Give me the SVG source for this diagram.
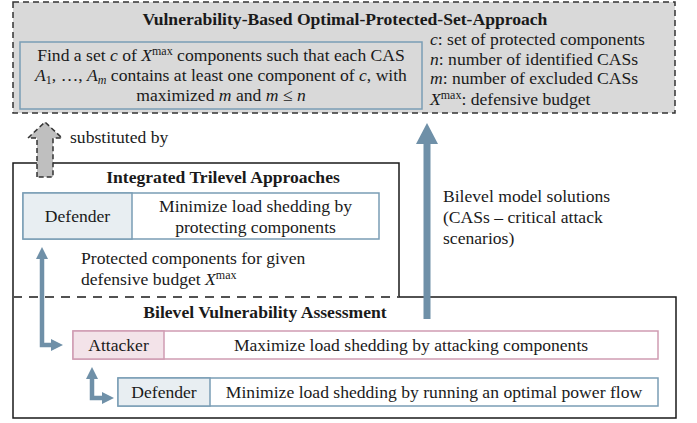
<svg xmlns="http://www.w3.org/2000/svg" width="697" height="423" viewBox="0 0 697 423">
<defs>
<style>
text{font-family:"Liberation Serif","Times New Roman",serif;font-size:17.6px;fill:#1a1a1a}
.b{font-weight:bold}
.i{font-style:italic}
.sup{font-size:12px}
.blue{fill:#fff;stroke:#7a9db5;stroke-width:1.5}
.bluecell{fill:#e8eef2;stroke:#7a9db5;stroke-width:1.5}
.pink{fill:#fff;stroke:#cf9cb2;stroke-width:1.5}
.pinkcell{fill:#f3e3e9;stroke:#cf9cb2;stroke-width:1.5}
.arr{fill:none;stroke:#6f90a8;stroke-width:4.5}
.ah{fill:#6f90a8}
</style>
</defs>
<rect width="697" height="423" fill="#fff"/>

<g id="vbopsa">
<rect x="13" y="2" width="662" height="111" fill="#d9d9d9" stroke="#333" stroke-width="1.5" stroke-dasharray="6 4"/>
<text class="b" x="345" y="25" text-anchor="middle">Vulnerability-Based Optimal-Protected-Set-Approach</text>
<rect x="20" y="42" width="402" height="67" fill="#d9d9d9" stroke="#7a9db5" stroke-width="1.5"/>
<text x="221" y="61" text-anchor="middle">Find a set <tspan class="i">c</tspan> of <tspan class="i">X</tspan><tspan class="sup" dy="-6">max</tspan><tspan dy="6"> components such that each CAS</tspan></text>
<text x="221" y="81" text-anchor="middle"><tspan class="i">A</tspan><tspan class="sup" dy="3">1</tspan><tspan dy="-3">, …, </tspan><tspan class="i">A</tspan><tspan class="sup i" dy="3">m</tspan><tspan dy="-3"> contains at least one component of </tspan><tspan class="i">c</tspan>, with</text>
<text x="221" y="101" text-anchor="middle">maximized <tspan class="i">m</tspan> and <tspan class="i">m</tspan> ≤ <tspan class="i">n</tspan></text>
<text x="430" y="45"><tspan class="i">c</tspan>: set of protected components</text>
<text x="430" y="64.5"><tspan class="i">n</tspan>: number of identified CASs</text>
<text x="430" y="84"><tspan class="i">m</tspan>: number of excluded CASs</text>
<text x="430" y="105"><tspan class="i">X</tspan><tspan class="sup" dy="-6">max</tspan><tspan dy="6">: defensive budget</tspan></text>
</g>

<g id="frames">
<path d="M13,297 V163 H399 V297 H676 V418 H13 Z" fill="none" stroke="#1a1a1a" stroke-width="1.5"/>
<line x1="13" y1="297" x2="399" y2="297" stroke="#fff" stroke-width="2"/>
<line x1="13" y1="297" x2="399" y2="297" stroke="#1a1a1a" stroke-width="1.5" stroke-dasharray="9 7"/>
</g>

<g id="integrated">
<text class="b" x="223" y="183" text-anchor="middle">Integrated Trilevel Approaches</text>
<rect class="blue" x="23" y="193" width="356" height="46"/>
<rect class="bluecell" x="23" y="193" width="109" height="46"/>
<text x="77.5" y="222" text-anchor="middle">Defender</text>
<text x="255.5" y="212" text-anchor="middle">Minimize load shedding by</text>
<text x="255.5" y="233" text-anchor="middle">protecting components</text>
<text x="81" y="264">Protected components for given</text>
<text x="81" y="285">defensive budget <tspan class="i">X</tspan><tspan class="sup" dy="-6">max</tspan></text>
</g>

<g id="bilevel">
<text class="b" x="265" y="318" text-anchor="middle">Bilevel Vulnerability Assessment</text>
<rect class="pink" x="73" y="331" width="585" height="28"/>
<rect class="pinkcell" x="73" y="331" width="91" height="28"/>
<text x="118.5" y="351" text-anchor="middle">Attacker</text>
<text x="411" y="351" text-anchor="middle">Maximize load shedding by attacking components</text>
<rect class="blue" x="118" y="378" width="540" height="28"/>
<rect class="bluecell" x="118" y="378" width="92" height="28"/>
<text x="164" y="398" text-anchor="middle">Defender</text>
<text x="434" y="398" text-anchor="middle">Minimize load shedding by running an optimal power flow</text>
</g>

<g id="connectors">
<polygon points="37,177 37,138 28,138 45,122 62,138 53,138 53,177" fill="#bfbfbf" stroke="#333" stroke-width="1.5" stroke-dasharray="5 3"/>
<text x="70" y="143">substituted by</text>
<polygon class="ah" points="423.5,319 423.5,144 416,144 427,123 438,144 430.5,144 430.5,319"/>
<text x="443" y="202">Bilevel model solutions</text>
<text x="443" y="223">(CASs – critical attack</text>
<text x="443" y="244">scenarios)</text>
<path class="arr" d="M42,258 V345 H52"/>
<polygon class="ah" points="42,247 36,259 48,259"/>
<polygon class="ah" points="63,345 51,339 51,351"/>
<path class="arr" d="M92,378 V398 H103"/>
<polygon class="ah" points="92,367 86,379 98,379"/>
<polygon class="ah" points="114,398 102,392 102,404"/>
</g>
</svg>
